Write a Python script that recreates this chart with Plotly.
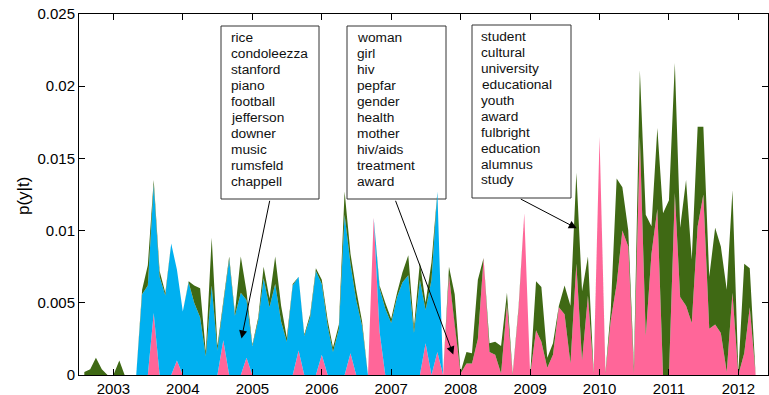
import pandas as pd
import plotly.graph_objects as go

# ---------------- data (monthly, Aug 2002 .. Apr 2012) ----------------
start_month = "2002-08-01"
pink = [0, 0, 0, 0, 0, 0, 0, 0, 0, 0,
        0, 0, 0.0043, 0, 0, 0, 0.0010, 0, 0, 0,
        0, 0, 0, 0, 0.0024, 0, 0, 0, 0.0012, 0,
        0, 0, 0, 0, 0, 0, 0, 0.0017, 0, 0,
        0, 0.0014, 0, 0, 0, 0, 0.0015, 0, 0, 0,
        0.0109, 0.0030, 0, 0, 0, 0, 0, 0, 0, 0.0022,
        0, 0.0016, 0, 0.0069, 0.0035, 0.0001, 0.0008, 0.0008, 0.0025, 0.0081,
        0.0016, 0.0014, 0.0001, 0.0049, 0, 0.0045, 0.0112, 0, 0.0031, 0.0023,
        0.0005, 0.0014, 0.0047, 0.0042, 0.0008, 0.0077, 0.0010, 0.0055, 0.0001, 0.0165,
        0.0001, 0.0038, 0.0063, 0.0100, 0.0089, 0.0001, 0.0165, 0.0027, 0.0084, 0.0115,
        0, 0, 0.0126, 0.0054, 0.0048, 0.0036, 0.0103, 0.0125, 0.0032, 0.0035,
        0.0029, 0.0002, 0.0057, 0, 0.0015, 0.0047, 0]
blue = [0, 0, 0, 0, 0, 0, 0, 0, 0, 0,
        0.0056, 0.0062, 0.0089, 0.0068, 0.0055, 0.0091, 0.0063, 0.0044, 0.0064, 0.0050,
        0.0040, 0.0013, 0.0062, 0.0017, 0.0025, 0.0080, 0.0041, 0.0057, 0.0040, 0.0020,
        0.0038, 0.0067, 0.0047, 0.0063, 0.0037, 0.0023, 0.0062, 0.0051, 0.0027, 0.0040,
        0.0072, 0.0049, 0.0034, 0.0016, 0.0032, 0.0111, 0.0062, 0.0052, 0.0034, 0,
        0, 0.0030, 0.0046, 0.0036, 0.0054, 0.0064, 0.0069, 0.0029, 0.0066, 0.0023,
        0.0066, 0.0111, 0, 0, 0, 0, 0, 0, 0, 0,
        0, 0, 0, 0, 0, 0, 0, 0, 0, 0,
        0, 0, 0, 0, 0, 0, 0, 0, 0, 0,
        0, 0, 0, 0, 0, 0, 0, 0, 0, 0,
        0, 0, 0, 0, 0, 0, 0, 0, 0, 0,
        0, 0, 0, 0, 0, 0, 0]
green = [0.0002, 0.0004, 0.0012, 0.0004, 0, 0, 0.0010, 0, 0, 0,
         0.0003, 0.0014, 0.0003, 0.0004, 0.0002, 0, 0, 0, 0.0001, 0.0012,
         0.0020, 0.0003, 0.0033, 0.0003, 0.0002, 0.0002, 0.0002, 0.0025, 0.0006, 0.0001,
         0.0002, 0.0008, 0.0006, 0.0019, 0.0011, 0.0003, 0.0001, 0, 0.0001, 0.0002,
         0.0002, 0.0003, 0.0004, 0.0003, 0.0003, 0.0016, 0.0007, 0.0007, 0.0003, 0,
         0, 0.0002, 0.0004, 0.0003, 0.0003, 0.0007, 0.0014, 0.0004, 0.0012, 0.0005,
         0.0012, 0, 0, 0.0006, 0.0021, 0.0001, 0.0008, 0.0007, 0.0041, 0,
         0.0006, 0.0009, 0.0019, 0.0008, 0.0001, 0.0002, 0, 0, 0.0034, 0.0038,
         0.0007, 0.0008, 0.0001, 0.0020, 0.0040, 0.0063, 0.0048, 0.0027, 0.0001, 0,
         0.0001, 0.0007, 0.0073, 0.0030, 0.0011, 0.0005, 0.0046, 0.0084, 0.0019, 0.0056,
         0.0112, 0.0121, 0.0090, 0.0048, 0.0087, 0.0044, 0.0069, 0.0047, 0.0036, 0.0067,
         0.0060, 0.0057, 0.0071, 0.0002, 0.0062, 0.0027, 0]

years = [2003, 2004, 2005, 2006, 2007, 2008, 2009, 2010, 2011, 2012]
y_ticks = [0, 0.005, 0.01, 0.015, 0.02, 0.025]
y_tick_text = ["0", "0.005", "0.01", "0.015", "0.02", "0.025"]

topics = [
    ["rice", "condoleezza", "stanford", "piano", "football", "jefferson",
     "downer", "music", "rumsfeld", "chappell"],
    ["woman", "girl", "hiv", "pepfar", "gender", "health", "mother",
     "hiv/aids", "treatment", "award"],
    ["student", "cultural", "university", "educational", "youth", "award",
     "fulbright", "education", "alumnus", "study"],
]

months = pd.date_range(start_month, periods=len(pink), freq="MS")

# ---------------- figure ----------------
W, H = 769, 395
ML, MR, MT, MB = 79, 1, 14, 20
PW, PH = W - ML - MR, H - MT - MB


def px(xp):
    return (xp - ML) / PW


def py(yp):
    return (H - MB - yp) / PH


PINK, BLUE, GREEN = "#FF6699", "#00B0F0", "#3F6914"

fig = go.Figure()
for name, vals, col in [("pink", pink, PINK), ("blue", blue, BLUE), ("green", green, GREEN)]:
    fig.add_trace(go.Scatter(
        x=months, y=vals, name=name, mode="lines", stackgroup="one",
        line=dict(width=0, color=col), fillcolor=col, showlegend=False,
        hoverinfo="skip"))

FONT = "Liberation Sans, Arial, Helvetica, sans-serif"

shapes = []
annotations = []

# topic boxes
boxes = [(221, 26, 319, 199), (347, 26, 446, 199), (472, 25, 571, 198)]
text_x = [228.5, 355, 479.5]
first_baseline = [42.3, 42.3, 41.2]
line_step = 15.93
for (x0, y0, x1, y1), words, tx, fb in zip(boxes, topics, text_x, first_baseline):
    shapes.append(dict(type="rect", xref="paper", yref="paper",
                       x0=px(x0), x1=px(x1), y0=py(y1), y1=py(y0),
                       line=dict(color="#333333", width=1), fillcolor="white",
                       layer="below"))
    for i, w in enumerate(words):
        annotations.append(dict(
            xref="paper", yref="paper", x=px(tx), y=py(fb + i * line_step - 4.6),
            text=w, showarrow=False, xanchor="left", yanchor="middle",
            font=dict(family=FONT, size=13.7, color="#111111")))

# arrows (tail on box, head at curve)
arrows = [((270, 199.3), (241.5, 338.5)),
          ((395, 199.3), (453.3, 354.5)),
          ((519.3, 198.3), (576.7, 228.3))]
for (tx0, ty0), (hx, hy) in arrows:
    annotations.append(dict(
        xref="paper", yref="paper", x=px(hx), y=py(hy),
        ax=tx0 - hx, ay=ty0 - hy, axref="pixel", ayref="pixel",
        text="", showarrow=True, arrowhead=2, arrowsize=1.6, arrowwidth=1,
        arrowcolor="black"))

# y-axis label
annotations.append(dict(
    xref="paper", yref="paper", x=px(23), y=py(196), text="p(y|t)",
    textangle=-90, showarrow=False, xanchor="center", yanchor="middle",
    font=dict(family=FONT, size=17, color="black")))

fig.update_layout(
    width=W, height=H,
    margin=dict(l=ML, r=MR, t=MT, b=MB, pad=0, autoexpand=False),
    paper_bgcolor="white", plot_bgcolor="white",
    font=dict(family=FONT, size=15, color="black"),
    shapes=shapes, annotations=annotations,
    xaxis=dict(
        range=["2002-07-04", "2012-06-05"],
        tickvals=[pd.Timestamp(f"{y}-01-01") for y in years],
        ticktext=[str(y) for y in years],
        showgrid=False, zeroline=False, automargin=False,
        showline=True, linecolor="black", linewidth=1, mirror="ticks",
        ticks="inside", ticklen=6, tickcolor="black", tickwidth=1,
        tickfont=dict(family=FONT, size=15, color="black"),
    ),
    yaxis=dict(
        range=[0, 0.025],
        tickvals=y_ticks, ticktext=y_tick_text,
        showgrid=False, zeroline=False, automargin=False,
        showline=True, linecolor="black", linewidth=1, mirror="ticks",
        ticks="inside", ticklen=6, tickcolor="black", tickwidth=1,
        tickfont=dict(family=FONT, size=15, color="black"),
    ),
)

fig.write_html(
    "out.html",
    config={"displayModeBar": False, "staticPlot": True},
    post_script="document.body.style.margin='0';document.body.style.overflow='hidden';",
)
